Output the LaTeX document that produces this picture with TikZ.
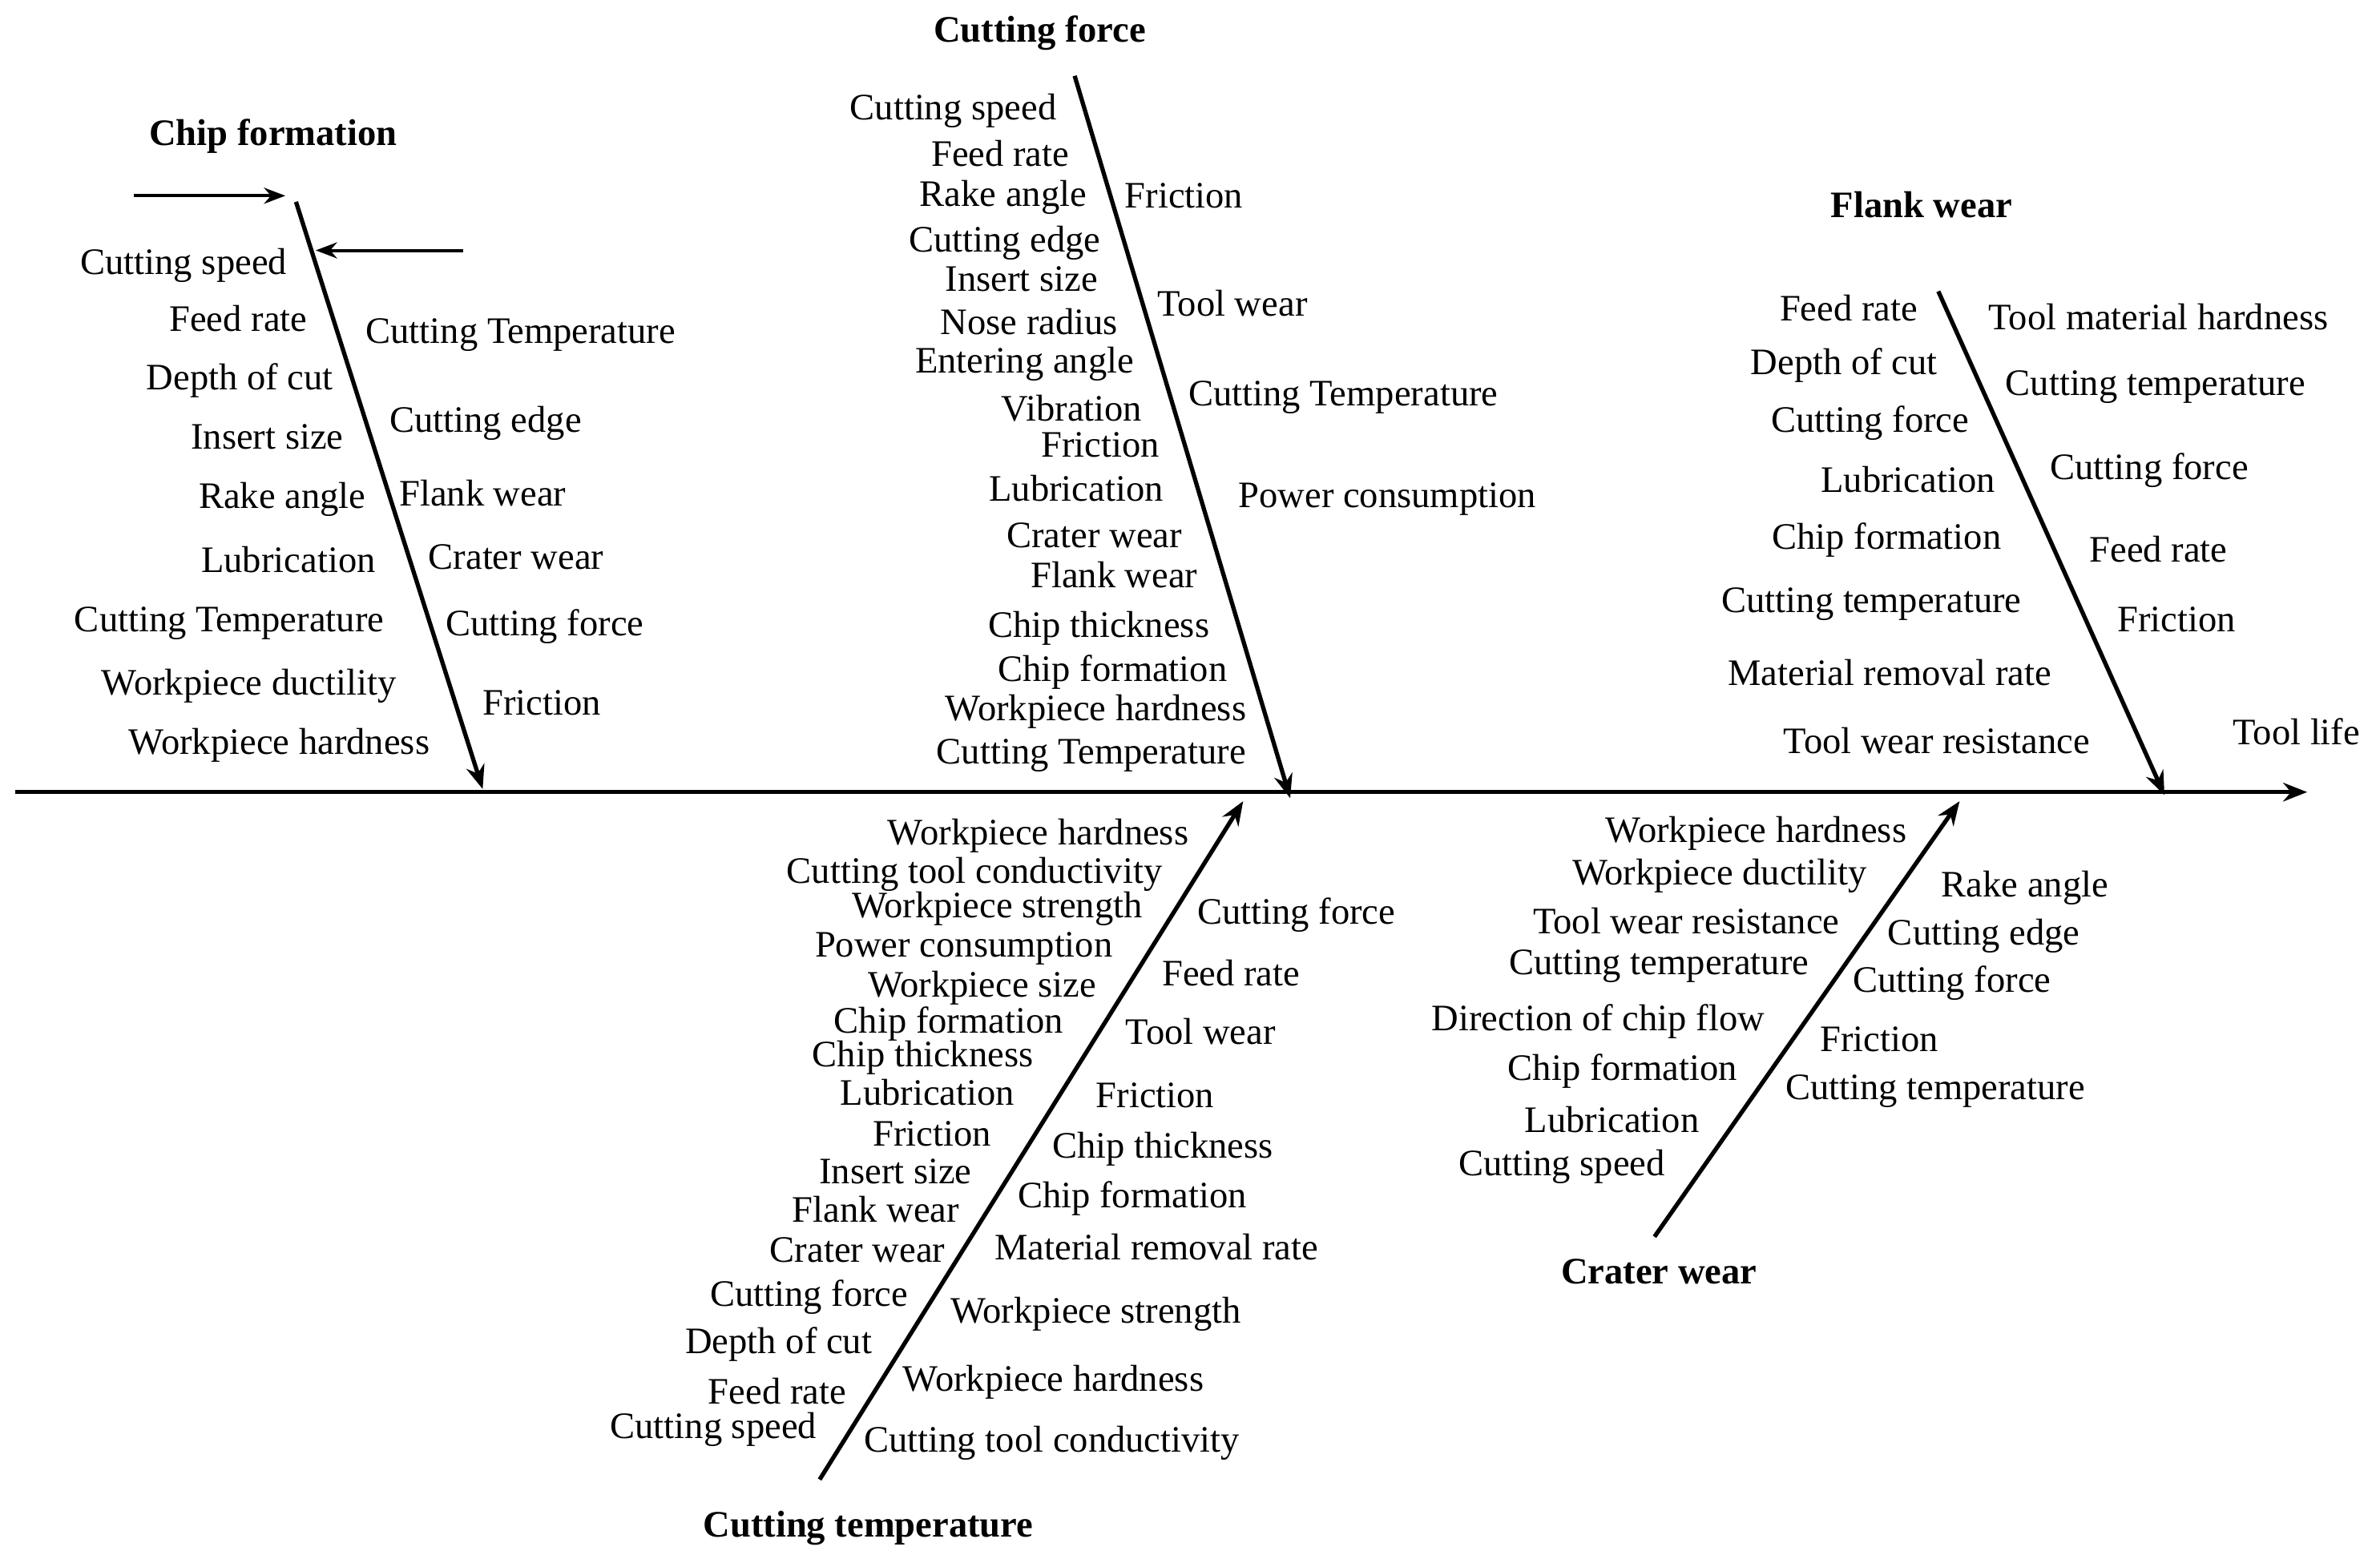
\documentclass[tikz,border=0pt]{standalone}
\usepackage{fontspec}
\setmainfont{Liberation Serif}
\usetikzlibrary{arrows.meta}
\begin{document}
\begin{tikzpicture}[x=0.02cm,y=-0.02cm,
  lab/.style={font=\fontsize{14}{16}\selectfont,inner sep=0pt},
  head/.style={font=\fontsize{14}{16}\selectfont\bfseries,inner sep=0pt},
  bone/.style={line width=1.6pt,-{Stealth[length=9pt,width=7pt]}}]
\useasboundingbox (0,0) rectangle (1568,1030);
% spine and bones
\coordinate (s0) at (10,522); \coordinate (s1) at (1520,522);
\draw[bone] (s0) -- (s1);
\coordinate (b1a) at (195,133); \coordinate (b1b) at (318,520);
\draw[bone] (b1a) -- (b1b);
\coordinate (x1a) at (88,129); \coordinate (x1b) at (188,129);
\draw[line width=1.2pt,-{Stealth[length=8pt,width=6pt]}] (x1a) -- (x1b);
\coordinate (x2a) at (305,165); \coordinate (x2b) at (208,165);
\draw[line width=1.2pt,-{Stealth[length=8pt,width=6pt]}] (x2a) -- (x2b);
\coordinate (b2a) at (708,50); \coordinate (b2b) at (850,526);
\draw[bone] (b2a) -- (b2b);
\coordinate (b3a) at (1277,192); \coordinate (b3b) at (1426,524);
\draw[bone] (b3a) -- (b3b);
\coordinate (b4a) at (540,975); \coordinate (b4b) at (819,528);
\draw[bone] (b4a) -- (b4b);
\coordinate (b5a) at (1090,815); \coordinate (b5b) at (1291,528);
\draw[bone] (b5a) -- (b5b);
% headings
\node[head] (h1) at (180,90) {Chip formation};
\node[head] (h2) at (685,22) {Cutting force};
\node[head] (h3) at (1266,135) {Flank wear};
\node[head] (h4) at (572,1007) {Cutting temperature};
\node[head] (h5) at (1093,838) {Crater wear};
\node[lab] (tl) at (1513,482) {Tool life};
% labels
\foreach \t/\x/\y [count=\i] in {
Cutting speed/121/175, Feed rate/157/210, Depth of cut/158/251, Insert size/176/288,
Rake angle/186/329, Lubrication/190/369, Cutting Temperature/151/411,
Workpiece ductility/164/452, Workpiece hardness/184/491,
Cutting Temperature/343/221, Cutting edge/320/279, Flank wear/318/325,
Crater wear/340/367, Cutting force/359/413, Friction/357/463}
{\node[lab] (a\i) at (\x,\y) {\t};}
\foreach \t/\x/\y [count=\i] in {
Cutting speed/628/73, Feed rate/659/101, Rake angle/661/130, Cutting edge/662/160,
Insert size/673/184, Nose radius/678/212, Entering angle/675/240, Vibration/706/269,
Friction/725/293, Lubrication/709/322, Crater wear/721/353, Flank wear/734/379,
Chip thickness/724/414, Chip formation/733/443, Workpiece hardness/722/469,
Cutting Temperature/719/498,
Friction/780/129, Tool wear/812/200, Cutting Temperature/885/262, Power consumption/914/329}
{\node[lab] (b\i) at (\x,\y) {\t};}
\foreach \t/\x/\y [count=\i] in {
Feed rate/1218/203, Depth of cut/1215/241, Cutting force/1232/279, Lubrication/1257/316,
Chip formation/1243/356, Cutting temperature/1233/398, Material removal rate/1245/443,
Tool wear resistance/1276/488,
Tool material hardness/1422/209, Cutting temperature/1420/255, Cutting force/1416/310,
Feed rate/1422/362, Friction/1434/408}
{\node[lab] (c\i) at (\x,\y) {\t};}
\foreach \t/\x/\y [count=\i] in {
Workpiece hardness/684/551, Cutting tool conductivity/642/576, Workpiece strength/657/599,
Power consumption/635/625, Workpiece size/647/651, Chip formation/625/675,
Chip thickness/608/697, Lubrication/611/720, Friction/614/747, Insert size/590/772,
Flank wear/577/797, Crater wear/565/824, Cutting force/533/855, Depth of cut/513/886,
Feed rate/512/917, Cutting speed/470/942,
Cutting force/854/603, Feed rate/811/641, Tool wear/791/680, Friction/761/722,
Chip thickness/766/757, Chip formation/746/790, Material removal rate/762/822,
Workpiece strength/722/866, Workpiece hardness/694/911, Cutting tool conductivity/693/951}
{\node[lab] (d\i) at (\x,\y) {\t};}
\foreach \t/\x/\y [count=\i] in {
Workpiece hardness/1157/549, Workpiece ductility/1133/577, Tool wear resistance/1111/607,
Cutting temperature/1093/637, Direction of chip flow/1053/673, Chip formation/1069/706,
Lubrication/1062/738, Cutting speed/1029/769,
Rake angle/1334/585, Cutting edge/1307/617, Cutting force/1286/648, Friction/1238/685,
Cutting temperature/1275/719}
{\node[lab] (e\i) at (\x,\y) {\t};}
\end{tikzpicture}
\end{document}
